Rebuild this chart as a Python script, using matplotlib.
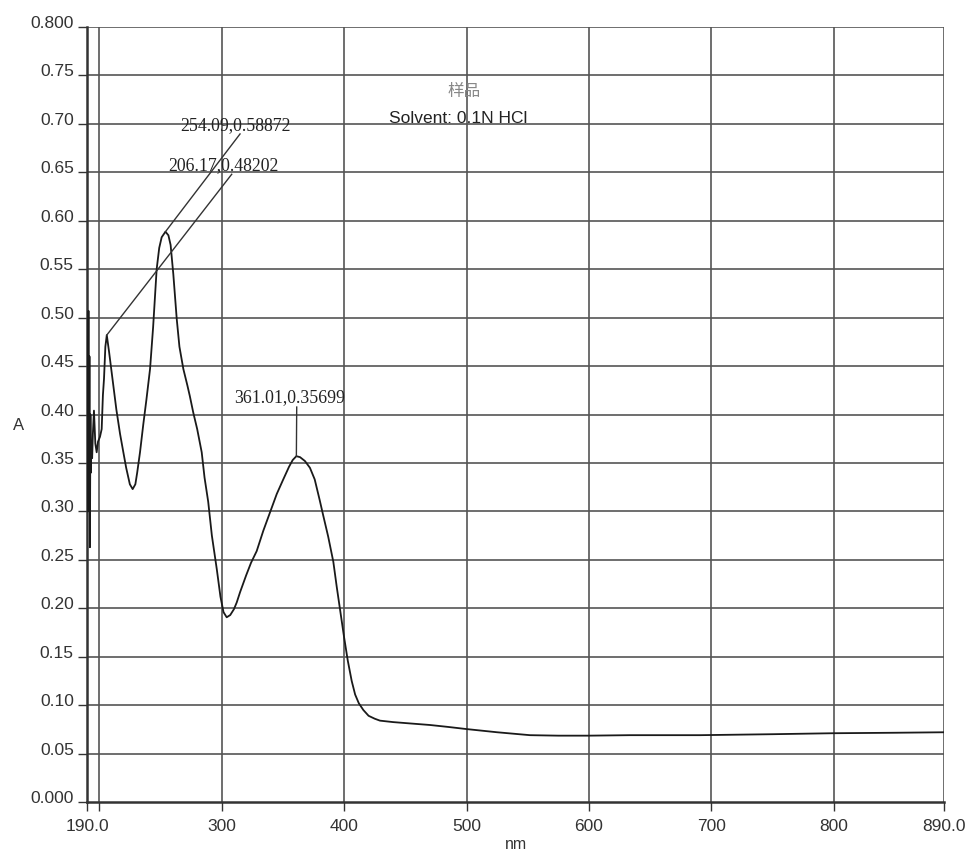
import matplotlib
matplotlib.use("Agg")
import matplotlib.pyplot as plt

# ---- data ----
wavelength = [190.0, 190.4, 190.8, 191.2, 191.6, 192.0, 192.4, 192.8, 193.2, 193.6,
              194.2, 194.8, 195.7, 196.8, 197.9, 199.0, 200.6, 202.0, 203.0, 203.9,
              205.0, 206.17, 208.0, 210.0, 211.5, 214.0, 217.0, 219.7, 222.0, 225.0,
              227.3, 229.5, 231.0, 233.3, 236.0, 238.5, 241.5, 244.0, 246.9, 249.0,
              251.0, 254.09, 256.5, 258.3, 260.5, 263.3, 265.5, 268.7, 272.0, 274.0,
              276.8, 280.0, 283.7, 286.0, 289.0, 292.0, 296.0, 299.0, 301.5, 304.1,
              307.0, 310.0, 312.3, 315.0, 320.0, 324.0, 328.6, 334.0, 339.5, 345.0,
              350.3, 355.0, 358.0, 361.01, 364.0, 368.0, 372.1, 376.0, 380.0, 383.0,
              387.0, 391.2, 394.0, 397.0, 400.0, 403.0, 406.2, 409.0, 412.0, 415.7,
              420.0, 425.0, 429.3, 440.0, 455.0, 470.2, 485.0, 500.0, 525.0, 551.8,
              575.0, 599.5, 633.5, 690.7, 750.0, 799.3, 850.0, 890.0]
absorbance = [0.300, 0.480, 0.330, 0.507, 0.300, 0.460, 0.263, 0.400, 0.340, 0.370,
              0.355, 0.380, 0.404, 0.370, 0.361, 0.372, 0.377, 0.385, 0.420, 0.437,
              0.470, 0.482, 0.465, 0.445, 0.430, 0.405, 0.380, 0.361, 0.345, 0.328,
              0.323, 0.328, 0.340, 0.361, 0.390, 0.415, 0.447, 0.490, 0.550, 0.572,
              0.583, 0.5887, 0.585, 0.575, 0.545, 0.4986, 0.470, 0.447, 0.430, 0.419,
              0.402, 0.385, 0.361, 0.335, 0.310, 0.275, 0.2405, 0.212, 0.196, 0.1907,
              0.193, 0.199, 0.206, 0.2165, 0.234, 0.247, 0.259, 0.280, 0.299, 0.318,
              0.333, 0.346, 0.353, 0.35699, 0.356, 0.352, 0.345, 0.333, 0.312, 0.2955,
              0.274, 0.248, 0.222, 0.196, 0.170, 0.146, 0.125, 0.111, 0.102, 0.095,
              0.089, 0.086, 0.084, 0.0825, 0.081, 0.0795, 0.0775, 0.0753, 0.072, 0.069,
              0.0685, 0.0685, 0.069, 0.069, 0.070, 0.071, 0.0715, 0.072]

peak_x = [254.09, 206.17, 361.01]
peak_y = [0.58872, 0.48202, 0.35699]
peak_labels = ["254.09,0.58872", "206.17,0.48202", "361.01,0.35699"]
leader_end_x = [315.0, 308.2, 361.3]
leader_end_y = [0.6896, 0.648, 0.4077]
label_x = [310.9, 301.1, 355.8]
label_y = [0.699, 0.6576, 0.419]

x_ticks = [190, 200, 300, 400, 500, 600, 700, 800, 890]
x_tick_labels = ["190.0", "", "300", "400", "500", "600", "700", "800", "890.0"]
y_ticks = [0.0, 0.05, 0.10, 0.15, 0.20, 0.25, 0.30, 0.35, 0.40, 0.45, 0.50,
           0.55, 0.60, 0.65, 0.70, 0.75, 0.80]
y_tick_labels = ["0.000", "0.05", "0.10", "0.15", "0.20", "0.25", "0.30", "0.35",
                 "0.40", "0.45", "0.50", "0.55", "0.60", "0.65", "0.70", "0.75", "0.800"]
v_grid = [200, 300, 400, 500, 600, 700, 800, 890]

title_cn = "样品"
title_en = "Solvent: 0.1N HCl"

# ---- figure ----
fig = plt.figure(figsize=(9.72, 8.54), dpi=100)
ax = fig.add_axes([0.0895, 0.0597, 0.9712 - 0.0895, 0.9672 - 0.0597])

grid_color = "#555555"
for gx in v_grid:
    ax.axvline(gx, color=grid_color, lw=1.2, zorder=1)
for gy in y_ticks[1:]:
    ax.axhline(gy, color=grid_color, lw=1.2, zorder=1)

ax.plot(wavelength, absorbance, color="#1a1a1a", lw=1.3, zorder=3)

serif = ["Liberation Serif", "DejaVu Serif"]
sans = ["Liberation Sans", "DejaVu Sans"]
for px, py, ex, ey, lx, ly, lab in zip(peak_x, peak_y, leader_end_x, leader_end_y,
                                       label_x, label_y, peak_labels):
    ax.plot([px, ex], [py, ey], color="#333333", lw=1.0, zorder=3)
    ax.text(lx, ly, lab, family=serif, fontsize=12.8, color="#222222",
            ha="center", va="center", zorder=4)

ax.text(0.4395, 0.918, title_cn, transform=ax.transAxes, ha="center", va="center",
        fontsize=12, color="#888888", family=["Noto Sans CJK SC", "DejaVu Sans"])
ax.text(0.4335, 0.883, title_en, transform=ax.transAxes, ha="center", va="center",
        fontsize=12.5, color="#222222", family=sans)

ax.set_xlim(190, 890)
ax.set_ylim(0, 0.8)
ax.set_xticks(x_ticks)
ax.set_xticklabels(x_tick_labels)
ax.set_yticks(y_ticks)
ax.set_yticklabels(y_tick_labels)

for lab in ax.get_yticklabels():
    lab.set_verticalalignment("baseline")
    lab.set_family(sans)
for lab in ax.get_xticklabels():
    lab.set_family(sans)

ax.tick_params(axis="y", length=6.5, width=1.0, color="#333333", pad=3.0,
               labelsize=12.5, labelcolor="#333333")
ax.tick_params(axis="x", length=6.5, width=1.0, color="#333333", pad=5,
               labelsize=12.5, labelcolor="#333333")

for side in ["top", "right"]:
    ax.spines[side].set_visible(False)
for side in ["left", "bottom"]:
    ax.spines[side].set_color("#333333")
    ax.spines[side].set_linewidth(1.8)

ax.set_xlabel("nm", fontsize=11.5, color="#333333", family=sans, labelpad=2)
ax.set_ylabel("A", fontsize=12, color="#333333", rotation=0, family=sans)
ax.yaxis.set_label_coords(-0.08, 0.477)

fig.savefig("out.png", dpi=100, facecolor="white")
